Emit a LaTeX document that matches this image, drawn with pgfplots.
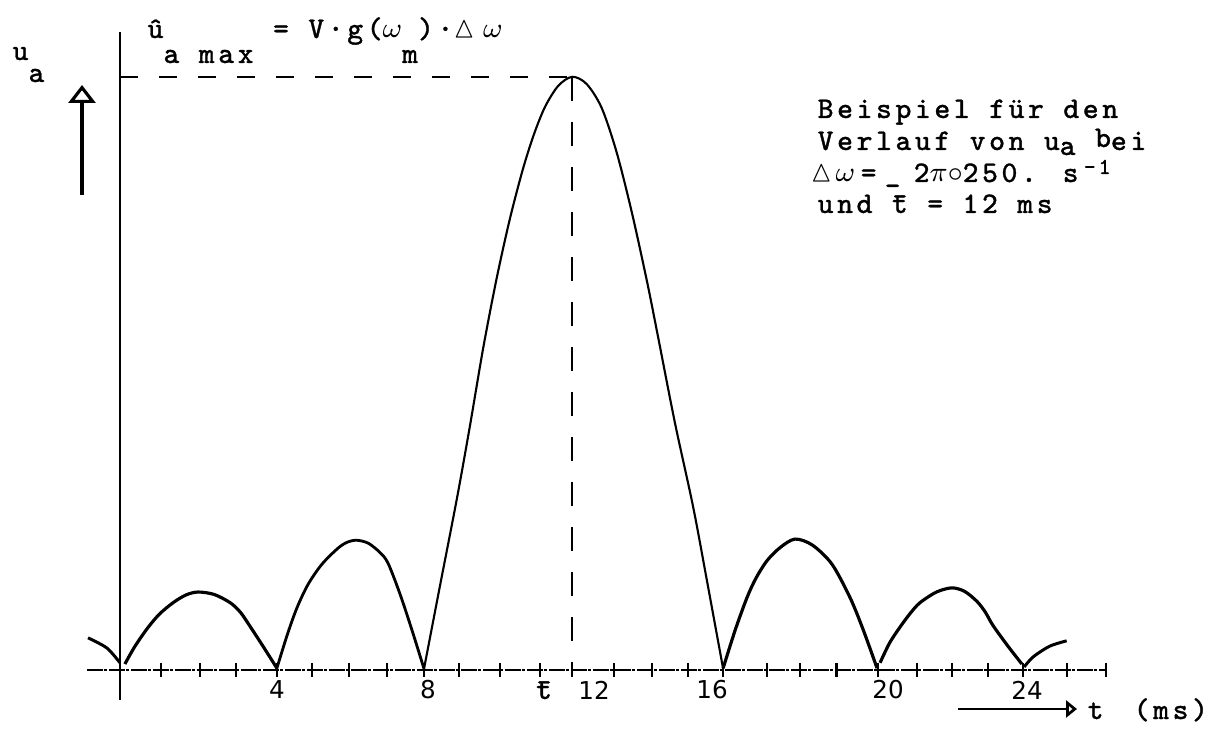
\documentclass[border=0pt]{standalone}
\usepackage{amssymb}
\usepackage{fontspec}
\usepackage{pgfplots}
\pgfplotsset{compat=1.18}
\usetikzlibrary{arrows.meta}
\newfontfamily\tw{Latin Modern Mono}[LetterSpace=12, FakeBold=1]
\newfontfamily\lbl{DejaVu Sans}

\begin{document}
\begin{tikzpicture}
\begin{axis}[
  at={(0,0)}, anchor=south west,
  width=120.7mm, height=73.4mm, scale only axis,
  xmin=-3.189, xmax=28.890,
  ymin=-0.1076, ymax=1.1261,
  hide axis, clip=false
]
% axes
\draw[line width=0.8pt] (axis cs:0,-0.05) -- (axis cs:0,1.072);
\draw[line width=0.7pt, dash pattern=on 1.6mm off 0.15mm on 0.3mm off 0.15mm]
  (axis cs:-0.88,0) -- (axis cs:26.21,0);
\addplot[only marks, mark=|, mark size=0.7mm, mark options={line width=0.7pt}]
coordinates {
(1.09,0) (2.13,0) (3.08,0) (4.17,0) (5.10,0) (6.09,0) (7.10,0) (8.08,0)
(9.01,0) (10.10,0) (11.16,0) (12.01,0) (13.13,0) (14.14,0) (15.10,0)
(16.03,0) (17.20,0) (18.07,0) (19.04,0) (20.14,0) (21.18,0) (22.11,0)
(23.07,0) (24.00,0) (25.17,0) (26.21,0)
};
% reference lines to the maximum
\draw[line width=0.6pt, dash pattern=on 1.8mm off 2.1mm] (axis cs:0,0.997) -- (axis cs:12.02,0.997);
\draw[line width=0.6pt, dash pattern=on 2.4mm off 2.1mm] (axis cs:12.02,0.997) -- (axis cs:12.02,0);

% curve u_a(t)
\addplot[smooth, line width=0.85pt] coordinates {
(-0.85,0.054) (-0.35,0.037) (0,0.012)
};
\addplot[smooth, line width=0.9pt] coordinates {
(0.13,0.01) (0.4,0.04) (0.74,0.071) (1.05,0.094) (1.41,0.113) (1.75,0.126)
(2.07,0.131) (2.5,0.127) (2.93,0.113) (3.2,0.097) (3.46,0.073) (3.8,0.04) (4.17,0.003)
};
\addplot[smooth, line width=0.8pt] coordinates {
(4.17,0.003) (4.44,0.058) (4.70,0.104) (5.0,0.144) (5.37,0.178) (5.8,0.205)
(6.05,0.215) (6.3,0.218) (6.6,0.213) (6.9,0.198) (7.12,0.18) (7.44,0.128) (7.76,0.067) (8.08,0.002)
};
\addplot[smooth, line width=0.6pt] coordinates {
(8.08,0.002) (8.5,0.14) (8.96,0.29) (9.3,0.41) (9.65,0.54) (10.0,0.655)
(10.35,0.755) (10.7,0.84) (11.0,0.9) (11.3,0.947) (11.65,0.982) (12.02,0.997)
(12.4,0.985) (12.8,0.945) (13.2,0.87) (13.6,0.77) (14.0,0.655) (14.3,0.56)
(14.75,0.415) (15.23,0.275) (15.6,0.15) (16.03,0.002)
};
\addplot[smooth, line width=0.9pt] coordinates {
(16.03,0.003) (16.35,0.067) (16.66,0.121) (16.9,0.154) (17.2,0.184) (17.55,0.206)
(17.94,0.22) (18.4,0.21) (18.92,0.178) (19.4,0.122) (19.75,0.068) (20.12,0.003)
};
\addplot[smooth, line width=0.9pt] coordinates {
(20.2,0.012) (20.45,0.045) (20.73,0.072) (21.0,0.095) (21.26,0.113) (21.7,0.131)
(22.11,0.138) (22.45,0.132) (22.78,0.115) (23.0,0.097) (23.2,0.075) (23.6,0.04) (23.97,0.01)
};
\addplot[smooth, line width=0.85pt] coordinates {
(24.03,0.005) (24.27,0.022) (24.71,0.04) (25.16,0.049)
};
\end{axis}

% annotations, in picture pixels (1 px = 0.1 mm, y downwards)
\begin{scope}[x=0.1mm, y=-0.1mm, yshift=73.4mm,
  every node/.style={font=\tw\fontsize{8.5}{10}\selectfont, inner sep=0pt, anchor=base west}]
\node at (147,38) {\^{u}\raisebox{-2.5mm}{a max} = V·g($\omega$\raisebox{-2.5mm}{m})·$\vartriangle\omega$};
\node at (12,60) {u\raisebox{-2.2mm}{a}};
\draw[line width=0.9pt, -{Triangle[open, length=1.8mm, width=2.7mm, line width=0.9pt]}] (82,195) -- (82,85);

\node at (817,118) {Beispiel für den};
\node at (817,150) {Verlauf von u\raisebox{-0.5mm}{a} \raisebox{0.3mm}{b}ei};
\node at (810,182) {$\vartriangle\mkern-3mu\omega$};
\node at (860,182) {=};
\node at (884,183) {\_};
\node at (913,182) {2$\pi$$\circ$250.};
\node at (1062,182) {s};
\node at (1083,174) {\fontsize{6.5}{7}\selectfont -1};
\node at (817,213) {und \={t} = 12 ms};

\begin{scope}[every node/.style={font=\lbl\fontsize{7}{8}\selectfont, inner sep=0pt, anchor=center}]
\node at (277,690) {4};
\node at (428,690) {8};
\node at (594,690) {12};
\node at (712,690) {16};
\node at (888,690) {20};
\node at (1027,690) {24};
\end{scope}
\node[anchor=base] at (544,699) {\={t}};

\draw[line width=0.8pt, -{Triangle[open, length=1.1mm, width=1.7mm, line width=0.8pt]}] (958,709) -- (1077,709);
\node at (1087,719) {t};
\node at (1133,719) {(ms)};
\end{scope}
\pgfresetboundingbox
\path (0,0) rectangle (120.7mm,73.4mm);
\end{tikzpicture}
\end{document}
